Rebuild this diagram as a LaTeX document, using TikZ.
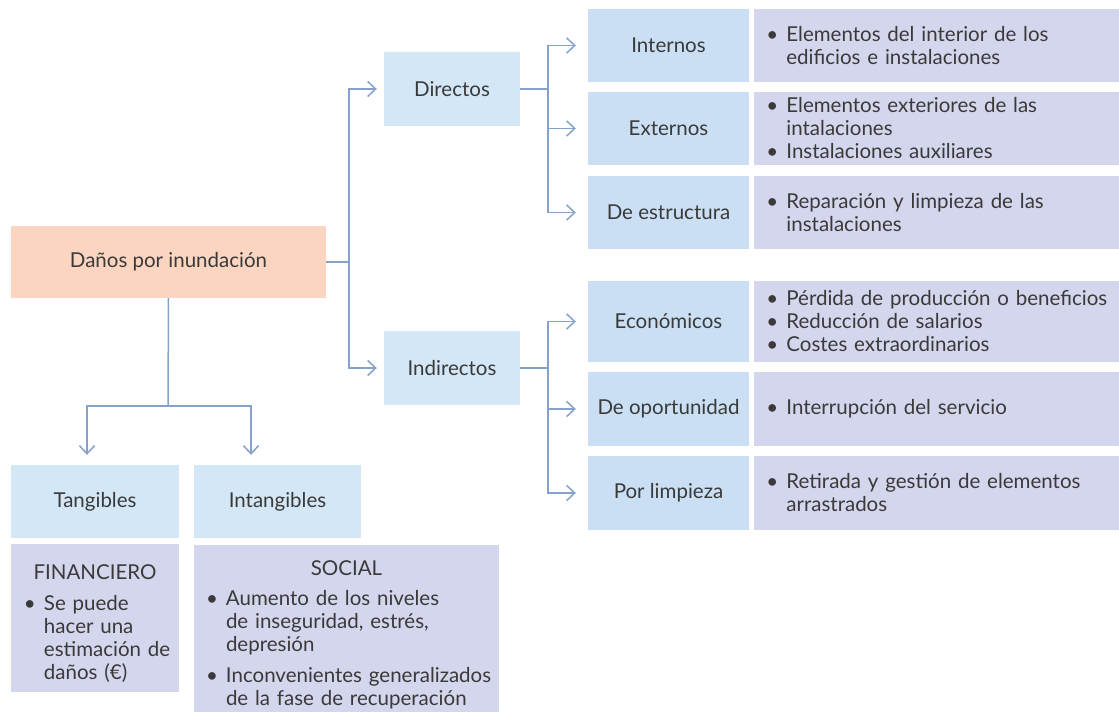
\documentclass[tikz,border=0pt]{standalone}
\usepackage{fontspec}
\setmainfont{Lato}
\usetikzlibrary{arrows.meta,positioning}
\definecolor{peach}{HTML}{FBD5BF}
\definecolor{skyfill}{HTML}{D4E7F6}
\definecolor{typefill}{HTML}{CADFF3}
\definecolor{lilac}{HTML}{D3D6EC}
\definecolor{linkblue}{HTML}{86A2CB}
\definecolor{ink}{HTML}{3A3A3A}
\newcommand{\itm}{\makebox[20pt][l]{\textbullet}}
\newcommand{\cnt}{\hspace*{20pt}}
\tikzset{
  box/.style={inner sep=0pt, text=ink, font=\fontsize{20.5}{23}\selectfont},
  rootbox/.style={box, fill=peach, minimum width=315, minimum height=72},
  kindbox/.style={box, fill=skyfill, minimum width=136, minimum height=74},
  typebox/.style={box, fill=typefill, minimum width=161},
  notebox/.style={box, fill=lilac, text width=345pt, inner xsep=10pt, align=left},
  link/.style={linkblue, line width=1.5pt},
  arr/.style={link, -{Straight Barb[length=8pt,width=15pt]}}
}
\begin{document}
\begin{tikzpicture}[x=1pt,y=-1pt]
\useasboundingbox (0,0) rectangle (1119,712);
% root and first split
\node[rootbox] (root) at (168.5,262) {Daños por inundación};
\node[kindbox] (dir) at (452,89) {Directos};
\node[kindbox] (ind) at (452,368) {Indirectos};
% direct damages
\node[typebox, minimum height=73] (int) at (668.5,45.5) {Internos};
\node[typebox, minimum height=73] (ext) at (668.5,128.5) {Externos};
\node[typebox, minimum height=73] (est) at (668.5,212.5) {De estructura};
\node[notebox, minimum height=73, right=5 of int] (intn) {\hspace*{2pt}\itm Elementos del interior de los\\ \hspace*{2pt}\cnt edificios e instalaciones};
\node[notebox, minimum height=73, right=5 of ext] (extn) {\hspace*{2pt}\itm Elementos exteriores de las\\ \hspace*{2pt}\cnt intalaciones\\ \hspace*{2pt}\itm Instalaciones auxiliares};
\node[notebox, minimum height=73, right=5 of est] (estn) {\hspace*{2pt}\itm Reparación y limpieza de las\\ \hspace*{2pt}\cnt instalaciones};
% indirect damages
\node[typebox, minimum height=81] (eco) at (668.5,321.5) {Económicos};
\node[typebox, minimum height=74] (opo) at (668.5,409) {De oportunidad};
\node[typebox, minimum height=74] (lim) at (668.5,493) {Por limpieza};
\node[notebox, minimum height=81, right=5 of eco] (econ) {\hspace*{2pt}\itm Pérdida de producción o beneficios\\ \hspace*{2pt}\itm Reducción de salarios\\ \hspace*{2pt}\itm Costes extraordinarios};
\node[notebox, minimum height=74, right=5 of opo] (opon) {\hspace*{2pt}\itm Interrupción del servicio};
\node[notebox, minimum height=74, right=5 of lim] (limn) {\hspace*{2pt}\itm Retirada y gestión de elementos\\ \hspace*{2pt}\cnt arrastrados};
% tangible / intangible
\node[box, fill=skyfill, minimum width=168, minimum height=73] (tan) at (95,501.5) {Tangibles};
\node[box, fill=skyfill, minimum width=167, minimum height=73] (itn) at (277.5,501.5) {Intangibles};
\node[box, fill=lilac, minimum height=148, text width=158pt, inner xsep=5pt, align=left] (fin) at (95,618)
  {\centerline{\rule{0pt}{25pt}FINANCIERO}\\[8pt] \hspace*{8pt}\itm Se puede\\ \hspace*{8pt}\cnt hacer una\\ \hspace*{8pt}\cnt estimación de\\ \hspace*{8pt}\cnt daños (€)};
\node[box, fill=lilac, minimum height=167, text width=299pt, inner xsep=3pt, align=left] (soc) at (346.5,628.5)
  {\centerline{\rule{0pt}{27pt}SOCIAL}\\[7pt] \hspace*{9pt}\itm Aumento de los niveles\\ \hspace*{9pt}\cnt de inseguridad, estrés,\\ \hspace*{9pt}\cnt depresión\\[8pt] \hspace*{9pt}\itm Inconvenientes generalizados\\ \hspace*{9pt}\cnt de la fase de recuperación};
% connectors
\coordinate (jA) at (349,262);
\coordinate (jB) at (548,89);
\coordinate (jC) at (548,368);
\coordinate (jD) at (168,406);
\draw[link] (root.east) -- (jA);
\draw[arr, shorten >=7pt] (jA) |- (dir.west);
\draw[arr, shorten >=7pt] (jA) |- (ind.west);
\draw[link] (dir.east) -- (jB);
\foreach \t in {int,ext,est} \draw[arr, shorten >=12pt] (jB) |- (\t.west);
\draw[link] (ind.east) -- (jC);
\foreach \t in {eco,opo,lim} \draw[arr, shorten >=12pt] (jC) |- (\t.west);
\draw[link] (root.south) -- (jD);
\draw[arr, shorten >=10pt] (jD) -| ([xshift=-8]tan.north);
\draw[arr, shorten >=10pt] (jD) -| ([xshift=-26.5]itn.north);
\end{tikzpicture}
\end{document}
